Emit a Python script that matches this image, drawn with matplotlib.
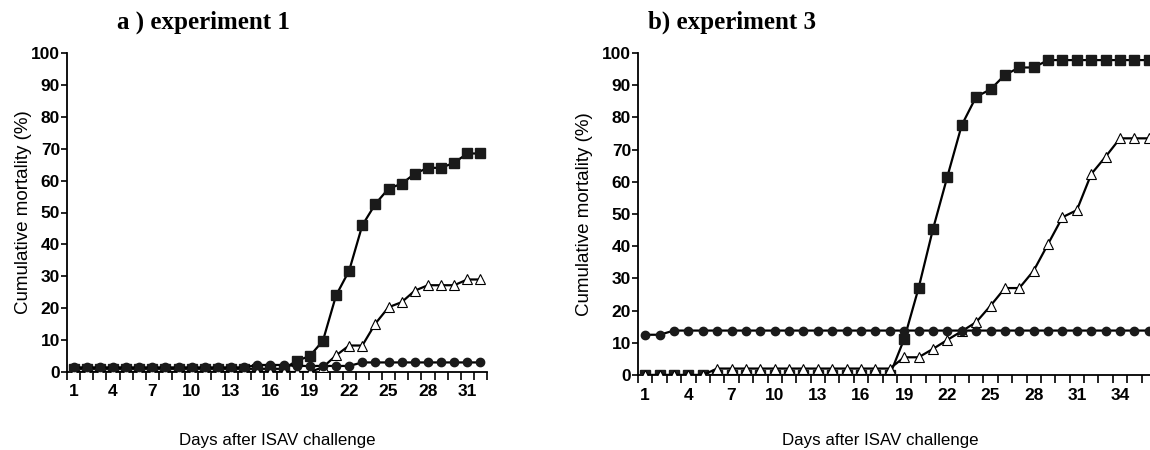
import numpy as np
import matplotlib
matplotlib.use("Agg")
from matplotlib import pyplot as plt

# experiment 1 (days 1-32)
days_a = np.arange(1, 33)
sq_a = [1.0]*17 + [3.5, 5.0, 9.8, 24.0, 31.8, 46.0, 52.7, 57.5, 59.0, 62.2, 64.0, 64.0, 65.6, 68.5, 68.5]
tri_a = [0.0]*19 + [1.5, 5.2, 8.3, 8.3, 15.2, 20.3, 21.9, 25.5, 27.2, 27.2, 27.2, 29.0, 29.0]
circ_a = [1.45]*14 + [2.2, 2.2, 2.2] + [1.9]*5 + [3.0]*10

# experiment 3 (days 1-36)
days_b = np.arange(1, 37)
sq_b = [0.0]*18 + [11.2, 27.0, 45.3, 61.6, 77.6, 86.4, 88.7, 93.2, 95.5, 95.5] + [97.8]*8
tri_b = [0.0]*5 + [2.0]*13 + [5.5, 5.5, 8.1, 10.9, 13.6, 16.4, 21.5, 27.0, 27.0, 32.4, 40.7,
                              49.0, 51.2, 62.4, 67.8, 73.5, 73.5, 73.5]
circ_b = [12.5, 12.5] + [13.8]*34

titles = ["a ) experiment 1", "b) experiment 3"]
ylab = "Cumulative mortality (%)"
xlab = "Days after ISAV challenge"

tickfont = dict(family="Liberation Sans", weight="bold", size=12.5)

fig = plt.figure(figsize=(11.5, 4.5), dpi=100)
ax_a = fig.add_axes([67/1150, 78/450, 420/1150, 319/450])
ax_b = fig.add_axes([638/1150, 75/450, 518/1150, 322/450])

panels = [(ax_a, days_a, sq_a, tri_a, circ_a, -0.083), (ax_b, days_b, sq_b, tri_b, circ_b, -0.086)]
for ax, d, sq, tri, circ, lx in panels:
    ax.plot(d, sq, color="black", lw=1.6, marker="s", ms=7.2, mfc="#1a1a1a", mec="#1a1a1a", zorder=3)
    ax.plot(d, tri, color="black", lw=1.6, marker="^", ms=7, mfc="white", mec="black", mew=0.8, zorder=4)
    ax.plot(d, circ, color="black", lw=1.6, marker="o", ms=6, mfc="#1a1a1a", mec="#1a1a1a", zorder=5)
    n = len(d)
    ax.set_xlim(0.5, n + 0.5)
    ax.set_ylim(0, 100)
    ax.spines["top"].set_visible(False)
    ax.spines["right"].set_visible(False)
    ax.spines["left"].set_linewidth(1.3)
    ax.spines["bottom"].set_linewidth(1.3)
    ax.set_yticks(np.arange(0, 101, 10))
    ax.set_yticklabels([str(v) for v in range(0, 101, 10)], fontdict=tickfont)
    # ticks at category boundaries, labels every third day
    ax.set_xticks(np.arange(0.5, n + 1, 1.0))
    ax.set_xticklabels([])
    ax.set_xticks(d[::3], minor=True)
    ax.set_xticklabels([str(v) for v in d[::3]], minor=True, fontdict=tickfont)
    ax.tick_params(axis="x", which="major", length=6, width=1.2, direction="out")
    ax.tick_params(axis="x", which="minor", length=0, pad=9)
    ax.tick_params(axis="y", length=4, width=1.2, direction="out", pad=1)
    ax.set_ylabel(ylab, family="Liberation Sans", fontsize=13.5)
    ax.yaxis.set_label_coords(lx, 0.5)

fig.text(277/1150, 1 - 440/450, xlab, family="Liberation Sans", fontsize=12.2, ha="center", va="center")
fig.text(880/1150, 1 - 440/450, xlab, family="Liberation Sans", fontsize=12.2, ha="center", va="center")

fig.text(117/1150, 1 - 22/450, titles[0], family="Liberation Serif", weight="bold", fontsize=18, ha="left", va="center")
fig.text(648/1150, 1 - 22/450, titles[1], family="Liberation Serif", weight="bold", fontsize=18, ha="left", va="center")

fig.savefig("out.png", dpi=100)
